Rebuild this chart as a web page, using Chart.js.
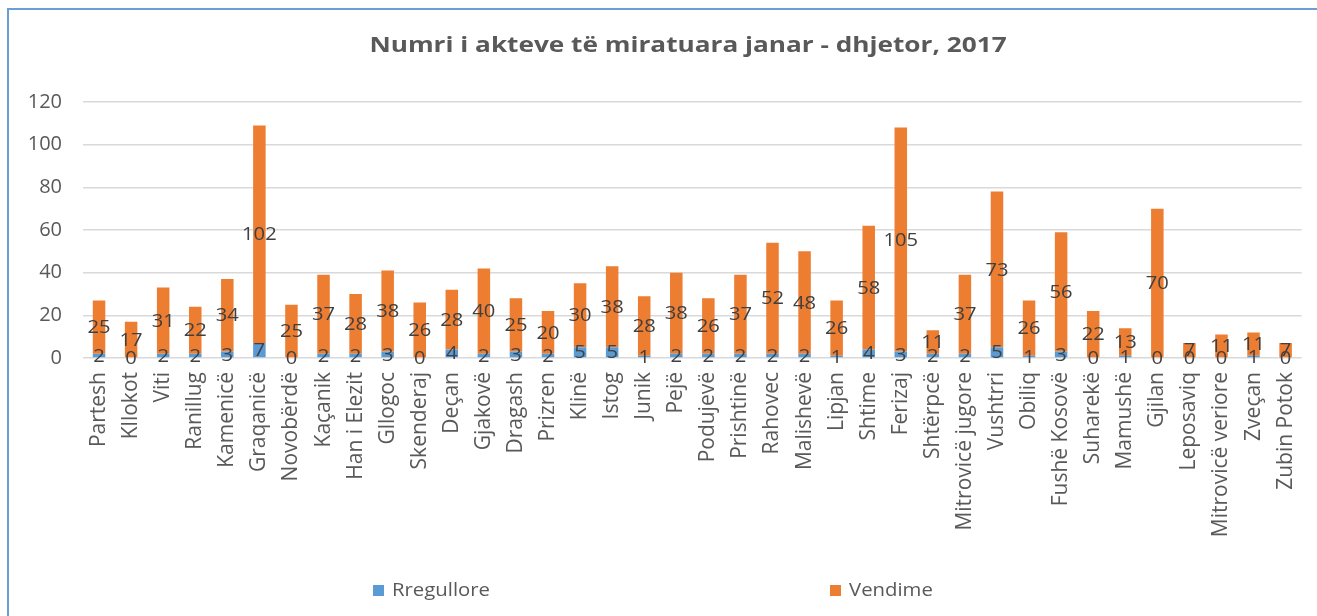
<!DOCTYPE html>
<html>
<head>
<meta charset="utf-8">
<script src="https://cdn.jsdelivr.net/npm/chart.js@4.4.1/dist/chart.umd.min.js"></script>
<style>
    body{
        margin:0;
        background:#ffffff;
        overflow:hidden;
    }
    .moldura{
        position:absolute;
        left:7px;
        top:8px;
        width:2000px;
        height:2000px;
        border-left:2px solid #6a9fd6;
        border-top:2px solid #6a9fd6;
    }
    #grafico{
        position:absolute;
        left:0;
        top:0;
    }
</style>
</head>
<body>

<div class="moldura"></div>
<canvas id="grafico" width="1317" height="616"></canvas>

<script>
// ==========================
// DADOS
// ==========================
const komunat = [
    "Partesh","Kllokot","Viti","Ranillug","Kamenicë","Graqanicë",
    "Novobërdë","Kaçanik","Han i Elezit","Gllogoc","Skenderaj","Deçan",
    "Gjakovë","Dragash","Prizren","Klinë","Istog","Junik","Pejë",
    "Podujevë","Prishtinë","Rahovec","Malishevë","Lipjan","Shtime",
    "Ferizaj","Shtërpcë","Mitrovicë jugore","Vushtrri","Obiliq",
    "Fushë Kosovë","Suharekë","Mamushë","Gjilan","Leposaviq",
    "Mitrovicë veriore","Zveçan","Zubin Potok"
];

const rregullore = [
    2,0,2,2,3,7,
    0,2,2,3,0,4,
    2,3,2,5,5,1,2,
    2,2,2,2,1,4,
    3,2,2,5,1,
    3,0,1,0,0,
    0,1,0
];

const vendime = [
    25,17,31,22,34,102,
    25,37,28,38,26,28,
    40,25,20,30,38,28,38,
    26,37,52,48,26,58,
    105,11,37,73,26,
    56,22,13,70,7,
    11,11,7
];

const yTicks = [0,20,40,60,80,100,120];

const titulli =
"Numri i akteve të miratuara janar - dhjetor, 2017";

const fonte = "'Open Sans', sans-serif";

// texto um pouco esticado na horizontal, como no original
function textoLargo(ctx, texto, x, y, escala){

    ctx.save();
    ctx.translate(x, y);
    ctx.scale(escala, 1);
    ctx.fillText(texto, 0, 0);
    ctx.restore();
}

// ==========================
// TITULO
// ==========================
const titulo = {

    id:"tituloLargo",

    afterDraw(chart, args, opts){

        const ctx = chart.ctx;

        ctx.save();

        ctx.font = "bold 22px " + fonte;
        ctx.fillStyle = "#595959";
        ctx.textAlign = "center";
        ctx.textBaseline = "middle";

        textoLargo(ctx, opts.text, opts.x, opts.y, opts.escala);

        ctx.restore();
    }
};

// ==========================
// ROTULOS NAS BARRAS
// ==========================
const rotulos = {

    id:"rotulos",

    afterDatasetsDraw(chart){

        const ctx = chart.ctx;

        ctx.save();

        ctx.font = "18px " + fonte;
        ctx.fillStyle = "#404040";
        ctx.textAlign = "center";
        ctx.textBaseline = "middle";

        chart.data.datasets.forEach((ds, i) => {

            const meta = chart.getDatasetMeta(i);

            meta.data.forEach((bar, j) => {

                const p = bar.getProps(["x","y","base"], true);

                textoLargo(
                    ctx,
                    String(ds.data[j]),
                    p.x,
                    (p.y + p.base) / 2 + 1,
                    1.12
                );
            });
        });

        ctx.restore();
    }
};

// ==========================
// LEGENDA
// ==========================
const legenda = {

    id:"legendaBaixo",

    afterDraw(chart, args, opts){

        const ctx = chart.ctx;

        ctx.save();

        ctx.font = "18px " + fonte;
        ctx.textBaseline = "middle";
        ctx.textAlign = "left";

        chart.data.datasets.forEach((ds, i) => {

            const x = opts.x + i * opts.passo;

            ctx.fillStyle = ds.backgroundColor;
            ctx.fillRect(x, opts.y - 6, 11, 11);

            ctx.fillStyle = "#595959";
            textoLargo(ctx, ds.label, x + 19, opts.y, 1.13);
        });

        ctx.restore();
    }
};

// ==========================
// GRAFICO
// ==========================
new Chart(document.getElementById("grafico"),{

    type:"bar",

    data:{

        labels:komunat,

        datasets:[{
            label:"Rregullore",
            data:rregullore,
            backgroundColor:"#5b9bd5"
        },{
            label:"Vendime",
            data:vendime,
            backgroundColor:"#ed7d31"
        }]
    },

    options:{

        responsive:false,
        animation:false,
        devicePixelRatio:1,

        barPercentage:0.39,
        categoryPercentage:1,

        layout:{
            padding:{ left:0, right:15, top:102, bottom:0 }
        },

        scales:{

            x:{
                stacked:true,
                grid:{ display:false },
                border:{ display:false },
                ticks:{
                    autoSkip:false,
                    minRotation:90,
                    maxRotation:90,
                    padding:6,
                    color:"#595959",
                    font:{ family:fonte, size:21 }
                },
                afterFit(scale){
                    scale.height = 258;
                }
            },

            y:{
                stacked:true,
                min:0,
                max:120,
                afterBuildTicks(scale){
                    scale.ticks = yTicks.map(v => ({ value:v }));
                },
                grid:{
                    color:"#d9d9d9",
                    lineWidth:1.5,
                    drawTicks:false
                },
                border:{ display:false },
                ticks:{
                    padding:21,
                    color:"#595959",
                    font:{ family:fonte, size:20 }
                },
                afterFit(scale){
                    scale.width = 83;
                }
            }
        },

        plugins:{

            legend:{ display:false },

            tooltip:{ enabled:false },

            title:{ display:false },

            tituloLargo:{
                text:titulli,
                x:688,
                y:46,
                escala:1.19
            },

            legendaBaixo:{
                x:373,
                passo:457,
                y:591
            }
        }
    },

    plugins:[titulo, rotulos, legenda]
});
</script>
</body>
</html>
